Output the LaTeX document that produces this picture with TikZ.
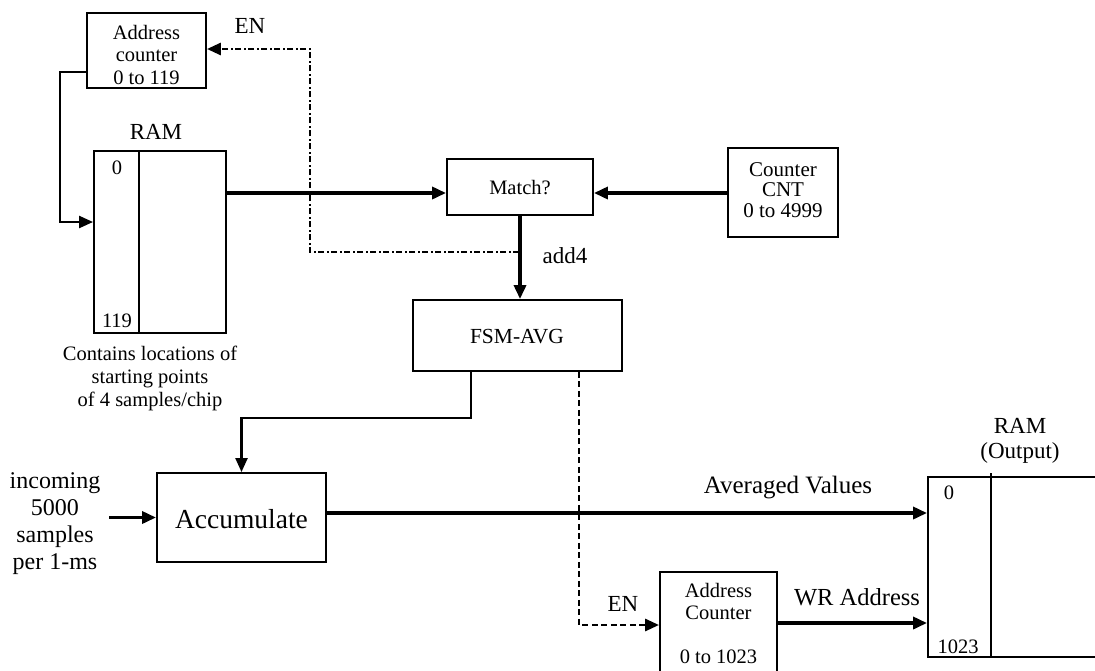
\documentclass[tikz,border=0pt]{standalone}
\usepackage{fontspec}
\setmainfont{Liberation Serif}
\usetikzlibrary{arrows.meta}

\begin{document}
\begin{tikzpicture}[x=1pt,y=-1pt,
  box/.style={draw, line width=1.9pt, rectangle, inner sep=0pt},
  tip/.style={-{Triangle[length=14pt,width=12pt]}},
  sig/.style={line width=3.4pt, tip},
  thinsig/.style={line width=2.3pt, tip},
  dashdot/.style={line width=2.9pt, dash pattern=on 6pt off 2.5pt on 2pt off 2.5pt, tip},
  dashsig/.style={line width=2.9pt, dash pattern=on 6pt off 3.5pt, tip},
  small/.style={font=\fontsize{20.5}{22.5}\selectfont, align=center, inner sep=0pt},
  label/.style={font=\fontsize{23}{25}\selectfont, align=center, inner sep=0pt},
  note/.style={font=\fontsize{20.5}{23}\selectfont, align=center, inner sep=0pt},
  big/.style={font=\fontsize{27.5}{30}\selectfont, inner sep=0pt}
]
\useasboundingbox (0,0) rectangle (1095,670);
\fill[white] (0,0) rectangle (1095,670);
\clip (0,0) rectangle (1095,670);

% ---- blocks ----
\node[box, minimum width=119pt, minimum height=75pt] (acTop) at (146.5,50.5) {};
\node[small] (acTopTxt) at (146.5,54.5) {Address\\counter\\0 to 119};

\node[box, minimum width=132pt, minimum height=182pt] (ram1) at (160,242) {};
\draw[line width=1.9pt] (139,151) -- (139,333);
\node[label] (ram1Lbl) at (156,132) {RAM};
\node[small] (ram1Top) at (117,168) {0};
\node[small] (ram1Bot) at (117,321) {119};
\node[note] (ram1Note) at (150,378) {Contains locations of\\starting points\\of 4 samples/chip};

\node[box, minimum width=146pt, minimum height=56pt] (match) at (520,187) {};
\node[small] (matchTxt) at (520,188) {Match?};

\node[box, minimum width=110pt, minimum height=89pt] (cnt) at (783,192.5) {};
\node[small, font=\fontsize{21}{20.5}\selectfont] (cntTxt) at (783,190) {Counter\\CNT\\0 to 4999};

\node[box, minimum width=209pt, minimum height=71pt] (fsm) at (517.5,335.5) {};
\node[small, font=\fontsize{21.5}{22.5}\selectfont] (fsmTxt) at (517,337) {FSM-AVG};

\node[box, minimum width=169pt, minimum height=89pt] (acc) at (241.5,517.5) {};
\node[big] (accTxt) at (241.5,519) {Accumulate};

\node[box, minimum width=117pt, minimum height=106pt] (ac2) at (718.5,625) {};
\node[small] (ac2TxtA) at (718.5,601.5) {Address\\Counter};
\node[small] (ac2TxtB) at (718.5,657) {0 to 1023};

\node[box, minimum width=200pt, minimum height=180pt] (ram2) at (1028,567) {};
\draw[line width=1.9pt] (991,473) -- (991,657);
\node[small] (ram2Top) at (949,493) {0};
\node[small] (ram2Bot) at (958,647) {1023};
\node[label] (ram2Lbl) at (1020,440.5) {RAM\\(Output)};

% ---- free labels ----
\node[label] (enTop) at (250,26) {EN};
\node[label] (add4) at (565,256) {add4};
\node[label, font=\fontsize{25}{25}\selectfont] (avgLbl) at (788,488) {Averaged Values};
\node[label] (enBot) at (623,604) {EN};
\node[label, font=\fontsize{24.5}{25}\selectfont] (wrLbl) at (857,597) {WR Address};
\node[font=\fontsize{24}{27}\selectfont, align=center, inner sep=0pt] (inLbl) at (55,524)
  {incoming\\5000\\samples\\per 1-ms};

% ---- connectors ----
\coordinate (inStart) at (109,517.5);
\coordinate (addTap) at (519,252);
\coordinate (ddCorner) at (310,252);

\draw[thinsig] ([yshift=-21.5pt]acTop.west) -- ++(-26,0) |- ([yshift=20pt]ram1.west);
\draw[sig] ([yshift=49pt]ram1.east) -- ([yshift=-6pt]match.west);
\draw[sig] ([yshift=-0.5pt]cnt.west) -- ([yshift=-6pt]match.east);
\draw[sig] (match.south) -- (match.south |- fsm.north);
\draw[dashdot] (addTap) -- (ddCorner) |- ([yshift=1.5pt]acTop.east);
\draw[thinsig] ([xshift=-46.5pt]fsm.south) -- ++(0,46) -| (acc.north);
\draw[dashsig] ([xshift=61.5pt]fsm.south) |- (ac2.west);
\draw[sig] (inStart) -- (inStart -| acc.west);
\draw[sig] ([yshift=4.5pt]acc.east) coordinate (accOut) -- (accOut -| ram2.west);
\draw[sig] ([yshift=2pt]ac2.east) coordinate (ac2Out) -- (ac2Out -| ram2.west);
\end{tikzpicture}
\end{document}
